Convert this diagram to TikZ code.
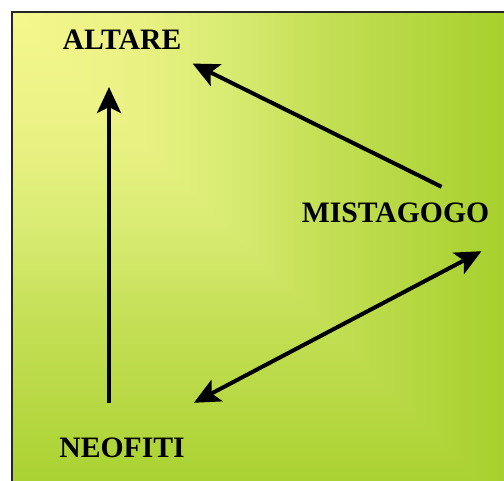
\documentclass[tikz,border=0pt]{standalone}
\usepackage{fontspec}
\setmainfont{Liberation Serif}
\usetikzlibrary{arrows.meta}

\definecolor{glowA}{HTML}{FFFF99}
\definecolor{glowB}{HTML}{F8FA90}
\definecolor{glowC}{HTML}{ECF285}
\definecolor{glowD}{HTML}{DAEC74}
\definecolor{glowE}{HTML}{C4DF55}
\definecolor{glowF}{HTML}{AAD232}
\definecolor{glowG}{HTML}{9CCC18}
\definecolor{glowH}{HTML}{99CC11}

\pgfdeclarehorizontalshading{cornerglow}{100bp}{color(0bp)=(glowA); color(20bp)=(glowB);
  color(36bp)=(glowC); color(46bp)=(glowD); color(56bp)=(glowE); color(72bp)=(glowF);
  color(86bp)=(glowG); color(100bp)=(glowH)}

\begin{document}
\begin{tikzpicture}[x=0.75pt, y=-0.75pt, node distance=306pt,
    >={Stealth[length=19.5pt,width=18pt,inset=4.5pt]},
    plaintext/.style={font=\bfseries\fontsize{22.25pt}{26pt}\selectfont, inner sep=0pt},
    link/.style={line width=3pt}]
  \useasboundingbox (0,0) rectangle (504,481);

  % Background
  \shade[shading=cornerglow] (12,12) rectangle (512,512);
  \begin{scope}
    \clip (12,12) -- (12,512) -- (512,512) -- cycle;
    \shade[shading=cornerglow, shading angle=-90] (12,12) rectangle (512,512);
  \end{scope}
  \draw[line width=1.5pt, black!85] (12,12) rectangle (530,530);

  % Nodes
  \node[plaintext] (altare) at (122,40) {ALTARE};
  \node[plaintext] (neofiti) [below of=altare] {NEOFITI};
  \node[plaintext] (mistagogo) at (395.5,213) {MISTAGOGO};

  % Arrows
  \draw[link,->] ([shift={(-13,-35)}]neofiti.north) -- ([shift={(-13,37)}]altare.south);
  \draw[link,->] ([shift={(46,-16)}]mistagogo.north) -- ([shift={(11,13.5)}]altare.south east);
  \draw[link,<->] ([shift={(9,-35)}]neofiti.north east) -- ([shift={(-8,28)}]mistagogo.south east);
\end{tikzpicture}
\end{document}
